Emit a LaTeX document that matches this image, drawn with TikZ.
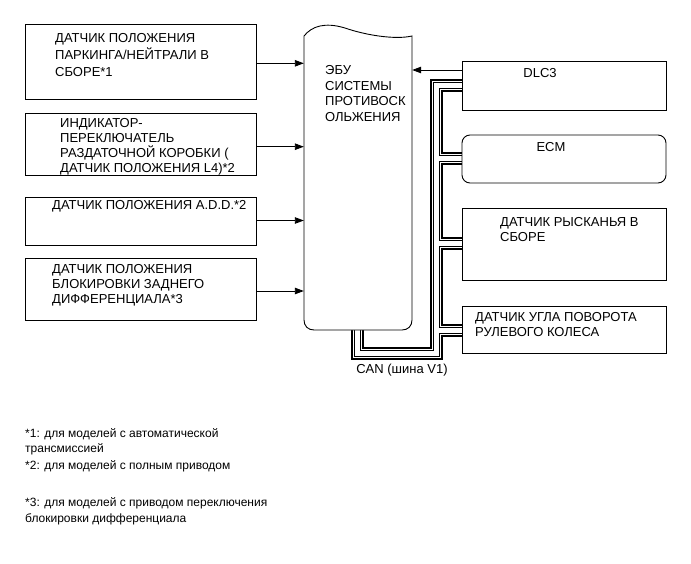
\documentclass[tikz,border=0pt]{standalone}
\usepackage{fontspec}
\setmainfont{Liberation Sans}
\usetikzlibrary{arrows.meta,calc}
\begin{document}
\begin{tikzpicture}[x=1pt,y=-1pt,
  box/.style={draw,line width=0.9pt,inner sep=0pt},
  lbl/.style={inner sep=0pt,anchor=north west,align=left,font=\fontsize{13}{15.5}\selectfont},
  fnote/.style={inner sep=0pt,anchor=north west,align=left,font=\fontsize{12}{15.5}\selectfont},
  clbl/.style={inner sep=0pt,font=\fontsize{13}{15.5}\selectfont},
  sig/.style={line width=0.9pt,-{Triangle[length=9pt,width=6.5pt]}},
  busA/.style={line width=13pt,black,line join=miter},
  busB/.style={line width=9pt,white,line join=miter},
  busC/.style={line width=7pt,black,line join=miter},
  busD/.style={line width=5pt,white,line join=miter}]
\useasboundingbox[fill=white] (0,0) rectangle (691,564);
% boxes (positions)
\node[box,minimum width=231pt,minimum height=75pt] (b1) at (140.5,61.5) {};
\node[box,minimum width=231pt,minimum height=62pt] (b2) at (140.5,144) {};
\node[box,minimum width=231pt,minimum height=48pt] (b3) at (140.5,221) {};
\node[box,minimum width=231pt,minimum height=62pt] (b4) at (140.5,289) {};
\node[inner sep=0pt,minimum width=108pt,minimum height=294pt] (ecu) at (358,183) {};
\coordinate (busS) at (357.5,330);
\coordinate (busB1) at (357.5,353);
\coordinate (busB2) at (436,353);
\coordinate (busT) at (436,86);
% bus layers
\foreach \st in {busA,busB,busC,busD}{
  \draw[\st] (busS) -- (busB1) -- (busB2) -- (busT) -- (462,86);
  \draw[\st] (436,159) -- (462,159);
  \draw[\st] (436,244) -- (462,244);
  \draw[\st] (436,330) -- (462,330);
}
\node[box,fill=white,minimum width=204pt,minimum height=49pt] (dlc) at (564,85.5) {};
\node[box,fill=white,rounded corners=8pt,minimum width=204pt,minimum height=48pt] (ecm) at (564,159) {};
\node[box,fill=white,minimum width=204pt,minimum height=72pt] (yaw) at (564,244) {};
\node[box,fill=white,minimum width=204pt,minimum height=47pt] (steer) at (564,329.5) {};
% ECU outline
\draw[line width=0.9pt,fill=white] (304,36) .. controls (312,26) and (325,22) .. (345,28)
  .. controls (365,35) and (395,40) .. (412,36) -- (412,320)
  .. controls (412,326) and (408,330) .. (402,330) -- (314,330)
  .. controls (308,330) and (304,326) .. (304,320) -- cycle;
% texts
\node[lbl,font=\fontsize{13}{17}\selectfont] (t1) at (55,33.3) {ДАТЧИК ПОЛОЖЕНИЯ\\ПАРКИНГА/НЕЙТРАЛИ В\\СБОРЕ*1};
\node[lbl,font=\fontsize{13}{15}\selectfont] (t2) at (60,118.3) {ИНДИКАТОР-\\ПЕРЕКЛЮЧАТЕЛЬ\\РАЗДАТОЧНОЙ КОРОБКИ (\\ДАТЧИК ПОЛОЖЕНИЯ L4)*2};
\node[lbl] (t3) at (52,200.3) {ДАТЧИК ПОЛОЖЕНИЯ A.D.D.*2};
\node[lbl,font=\fontsize{13}{15}\selectfont] (t4) at (52,264) {ДАТЧИК ПОЛОЖЕНИЯ\\БЛОКИРОВКИ ЗАДНЕГО\\ДИФФЕРЕНЦИАЛА*3};
\node[lbl,font=\fontsize{13}{15.7}\selectfont] (te) at (325,65.3) {ЭБУ\\СИСТЕМЫ\\ПРОТИВОСК\\ОЛЬЖЕНИЯ};
\node[clbl] (tdlc) at (540,73) {DLC3};
\node[clbl] (tecm) at (551,147) {ECM};
\node[lbl,font=\fontsize{13}{15}\selectfont] (tyaw) at (500,217.3) {ДАТЧИК РЫСКАНЬЯ В\\СБОРЕ};
\node[lbl,font=\fontsize{13}{15}\selectfont] (tst) at (475,312.3) {ДАТЧИК УГЛА ПОВОРОТА\\РУЛЕВОГО КОЛЕСА};
\node[clbl] (can) at (402,370) {CAN (шина V1)};
\node[fnote] (f1) at (25,428) {*1: для моделей с автоматической\\трансмиссией};
\node[fnote] (f2) at (25,460.5) {*2: для моделей с полным приводом};
\node[fnote] (f3) at (25,497.5) {*3: для моделей с приводом переключения\\блокировки дифференциала};
% arrows
\coordinate (a1) at ($(b1.east)+(0,1.8)$);
\coordinate (a2) at ($(b2.east)+(0,2.7)$);
\coordinate (a3) at ($(b3.east)+(0,-0.5)$);
\coordinate (a4) at ($(b4.east)+(0,2)$);
\draw[sig] (a1) -- (a1 -| ecu.west);
\draw[sig] (a2) -- (a2 -| ecu.west);
\draw[sig] (a3) -- (a3 -| ecu.west);
\draw[sig] (a4) -- (a4 -| ecu.west);
\coordinate (dlcarr) at (462,70);
\draw[sig] (dlcarr) -- (dlcarr -| ecu.east);
\end{tikzpicture}
\end{document}
